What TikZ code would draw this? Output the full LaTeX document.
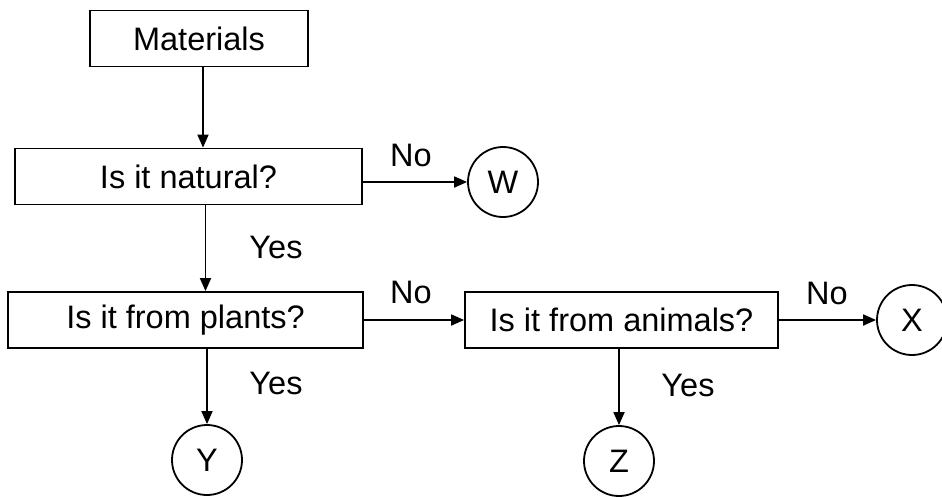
\documentclass[tikz,border=0pt]{standalone}
\usepackage{fontspec}
\setmainfont{Liberation Sans}
\usetikzlibrary{arrows.meta,positioning}
\tikzset{
  flow/.style={-{Triangle[length=13pt,width=11pt]}, line width=1.8pt},
  qbox/.style={draw, line width=1.8pt, minimum height=56pt, inner sep=0pt},
  endc/.style={draw, circle, line width=1.8pt, minimum size=70pt, inner sep=0pt},
  lab/.style={font=\fontsize{32.5}{38}\selectfont},
}

\begin{document}
\begin{tikzpicture}[x=1pt,y=-1pt]
\useasboundingbox (0,0) rectangle (942,496);

% ============ question boxes =================================
\node[qbox, lab, minimum width=218pt] (mat) at (199,38.5) {Materials};
\node[qbox, lab, minimum width=347pt] (nat) at (188.5,176.5) {Is it natural?};
\node[qbox, lab, minimum width=355pt] (pla) at (185.5,320) {Is it from plants?};
\node[qbox, lab, minimum width=313pt] (ani) at (621.5,320) {Is it from animals?};

% ============ end points =====================================
\node[endc, lab] (W) at (503,182) {W};
\node[endc, lab] (Y) at (207,460) {Y};
\node[endc, lab] (Z) at (619,461) {Z};
\node[endc, lab] (X) at (912,320) {X};

% ============ connectors =====================================
\draw[flow] ([xshift=4pt]mat.south) -- ([xshift=4pt]mat.south |- nat.north);
\draw[flow] (nat.east |- W.west) -- (W.west);
\draw[flow] ([xshift=17pt]nat.south) -- ([xshift=17pt]nat.south |- pla.north);
\draw[flow] (pla.east) -- (ani.west);
\draw[flow] (pla.south -| Y) -- (Y.north);
\draw[flow] (ani.south -| Z) -- (Z.north);
\draw[flow] (ani.east) -- (X.west);

% ============ answers ========================================
\node[lab] (no1) at (411,155) {No};
\node[lab] (yes1) at (276,247) {Yes};
\node[lab] (no2) at (411,292) {No};
\node[lab] (yes2) at (276,383) {Yes};
\node[lab] (no3) at (827,293) {No};
\node[lab] (yes3) at (688,385) {Yes};

\end{tikzpicture}
\end{document}
